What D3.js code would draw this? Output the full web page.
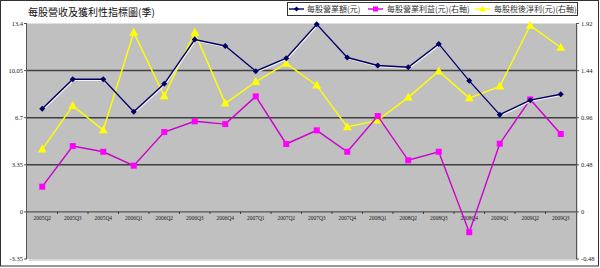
<!DOCTYPE html>
<html>
<head>
<meta charset="utf-8">
<script src="https://cdn.jsdelivr.net/npm/d3@7"></script>
<style>
  body { margin: 0; background: #fff; }
  svg { display: block; }
</style>
</head>
<body>
<svg id="chart" width="600" height="268"></svg>
<script>
// quarters on the x axis
const quarters = ["2005Q2","2005Q3","2005Q4","2006Q1","2006Q2","2006Q3","2006Q4",
  "2007Q1","2007Q2","2007Q3","2007Q4","2008Q1","2008Q2","2008Q3","2008Q4",
  "2009Q1","2009Q2","2009Q3"];

// left axis: revenue per share
const revenue = [7.33, 9.44, 9.44, 7.12, 9.11, 12.26, 11.80, 10.01, 10.93, 13.34,
  10.98, 10.41, 10.29, 11.95, 9.32, 6.91, 7.95, 8.37];
// right axis: operating profit per share
const opProfit = [0.257, 0.671, 0.613, 0.471, 0.814, 0.923, 0.895, 1.177, 0.692, 0.831,
  0.613, 0.977, 0.526, 0.613, -0.207, 0.695, 1.146, 0.794];
// right axis: net profit per share
const netProfit = [0.638, 1.081, 0.834, 1.828, 1.180, 1.828, 1.106, 1.326, 1.513, 1.289,
  0.865, 0.933, 1.167, 1.434, 1.160, 1.279, 1.899, 1.675];

const leftTicks = [-3.35, 0, 3.35, 6.7, 10.05, 13.4];
const leftTickLabels = ["-3.35", "0", "3.35", "6.7", "10.05", "13.4"];
const rightTicks = [-0.48, 0, 0.48, 0.96, 1.44, 1.92];
const rightTickLabels = ["-0.48", "0", "0.48", "0.96", "1.44", "1.92"];

const seriesNames = ["每股營業額(元)", "每股營業利益(元)(右軸)", "每股稅後淨利(元)(右軸)"];
const title = "每股營收及獲利性指標圖(季)";

const svg = d3.select("#chart");
const cjk = "'Noto Sans CJK TC', 'Noto Sans CJK SC', sans-serif";
const num = "'Liberation Serif', serif";

const plot = { left: 27, right: 576, top: 23.5, bottom: 259 };

const x = d3.scaleBand().domain(quarters).range([plot.left, plot.right]);
const yL = d3.scaleLinear().domain([-3.35, 13.4]).range([plot.bottom, plot.top]);
const yR = d3.scaleLinear().domain([-0.48, 1.92]).range([plot.bottom, plot.top]);
const cx = d => x(d) + x.bandwidth() / 2;

// outer frame
svg.append("rect").attr("x", 0.5).attr("y", 0.5).attr("width", 598).attr("height", 265.5)
  .attr("fill", "#fff").attr("stroke", "#333");

// plot background with soft shadow
svg.append("rect").attr("x", plot.left + 2).attr("y", plot.top + 2)
  .attr("width", plot.right - plot.left).attr("height", plot.bottom - plot.top)
  .attr("fill", "#d8d8d8");
svg.append("rect").attr("x", plot.left).attr("y", plot.top)
  .attr("width", plot.right - plot.left).attr("height", plot.bottom - plot.top)
  .attr("fill", "#c0c0c0");

// gridlines
svg.append("g").selectAll("line").data([3.35, 6.7, 10.05]).join("line")
  .attr("x1", plot.left).attr("x2", plot.right)
  .attr("y1", d => yL(d)).attr("y2", d => yL(d))
  .attr("stroke", "#404040").attr("stroke-width", 1.5);

// left and right axis lines with labels
svg.append("line").attr("x1", plot.left - 0.5).attr("x2", plot.left - 0.5)
  .attr("y1", plot.top).attr("y2", plot.bottom).attr("stroke", "#555");
svg.append("line").attr("x1", plot.right + 0.5).attr("x2", plot.right + 0.5)
  .attr("y1", plot.top).attr("y2", plot.bottom).attr("stroke", "#555");

svg.append("g").selectAll("text").data(leftTicks).join("text")
  .attr("x", 23).attr("y", d => yL(d) + 2)
  .attr("text-anchor", "end").attr("font-family", num).attr("font-size", 6.5)
  .attr("fill", "#222").text((d, i) => leftTickLabels[i]);
svg.append("g").selectAll("line").data(leftTicks).join("line")
  .attr("x1", plot.left - 3).attr("x2", plot.left)
  .attr("y1", d => yL(d)).attr("y2", d => yL(d)).attr("stroke", "#555");

svg.append("g").selectAll("text").data(rightTicks).join("text")
  .attr("x", 581).attr("y", d => yR(d) + 2)
  .attr("text-anchor", "start").attr("font-family", num).attr("font-size", 6.5)
  .attr("fill", "#222").text((d, i) => rightTickLabels[i]);
svg.append("g").selectAll("line").data(rightTicks).join("line")
  .attr("x1", plot.right).attr("x2", plot.right + 3)
  .attr("y1", d => yR(d)).attr("y2", d => yR(d)).attr("stroke", "#555");

// category axis at zero
const y0 = yL(0);
svg.append("line").attr("x1", plot.left).attr("x2", plot.right)
  .attr("y1", y0).attr("y2", y0).attr("stroke", "#555").attr("stroke-width", 1.2);
svg.append("g").selectAll("line").data(quarters.slice(1)).join("line")
  .attr("x1", d => x(d)).attr("x2", d => x(d))
  .attr("y1", y0).attr("y2", y0 + 2).attr("stroke", "#333");
svg.append("g").selectAll("text").data(quarters).join("text")
  .attr("x", d => cx(d)).attr("y", y0 + 8.5)
  .attr("text-anchor", "middle").attr("font-family", num).attr("font-size", 5.5)
  .attr("fill", "#222").text(d => d);

// series lines
const lineL = d3.line().x((d, i) => cx(quarters[i])).y(d => yL(d));
const lineR = d3.line().x((d, i) => cx(quarters[i])).y(d => yR(d));

function drawMarker(g, type, color, size) {
  if (type === "square") {
    g.append("rect").attr("x", -size / 2).attr("y", -size / 2)
      .attr("width", size).attr("height", size).attr("fill", color);
  } else if (type === "triangle") {
    g.append("path").attr("d", `M0,${-size * 0.6}L${size * 0.55},${size * 0.4}L${-size * 0.55},${size * 0.4}Z`)
      .attr("fill", color);
  } else {
    g.append("path").attr("d", `M0,${-size / 2}L${size / 2},0L0,${size / 2}L${-size / 2},0Z`)
      .attr("fill", color);
  }
}

function drawSeries(values, line, scale, stroke, markColor, type, size, halo) {
  const g = svg.append("g");
  if (halo) {
    g.append("path").datum(values).attr("d", line)
      .attr("transform", "translate(0.8,1)")
      .attr("fill", "none").attr("stroke", "#f4f4f4").attr("stroke-width", 1.4);
  }
  g.append("path").datum(values).attr("d", line)
    .attr("fill", "none").attr("stroke", stroke).attr("stroke-width", 1.4);
  g.selectAll("g.m").data(values).join("g").attr("class", "m")
    .attr("transform", (d, i) => `translate(${cx(quarters[i])},${scale(d)})`)
    .each(function () { drawMarker(d3.select(this), type, markColor, size); });
}

drawSeries(netProfit, lineR, yR, "#ffff00", "#ffff00", "triangle", 8, false);
drawSeries(opProfit, lineR, yR, "#cc00cc", "#ff00ff", "square", 6, false);
drawSeries(revenue, lineL, yL, "#000066", "#000066", "diamond", 6, true);

// title
svg.append("text").attr("x", 28).attr("y", 16)
  .attr("font-family", cjk).attr("font-size", 10).attr("fill", "#111")
  .text(title);

// legend
const legend = svg.append("g");
legend.append("rect").attr("x", 287.5).attr("y", 2.5).attr("width", 290).attr("height", 13)
  .attr("fill", "#fff").attr("stroke", "#333");
const legendItems = [
  { name: seriesNames[0], x0: 289, tx: 307, stroke: "#000066", mc: "#000066", type: "diamond", size: 5 },
  { name: seriesNames[1], x0: 368, tx: 387, stroke: "#cc00cc", mc: "#ff00ff", type: "square", size: 5 },
  { name: seriesNames[2], x0: 475, tx: 494, stroke: "#ffff00", mc: "#ffff00", type: "triangle", size: 6 }
];
legendItems.forEach(it => {
  legend.append("line").attr("x1", it.x0).attr("x2", it.x0 + 15)
    .attr("y1", 9).attr("y2", 9).attr("stroke", it.stroke).attr("stroke-width", 1.4);
  const mg = legend.append("g").attr("transform", `translate(${it.x0 + 7.5},9)`);
  drawMarker(mg, it.type, it.mc, it.size);
  legend.append("text").attr("x", it.tx).attr("y", 12)
    .attr("font-family", cjk).attr("font-size", 8).attr("fill", "#333")
    .text(it.name);
});
</script>
</body>
</html>
